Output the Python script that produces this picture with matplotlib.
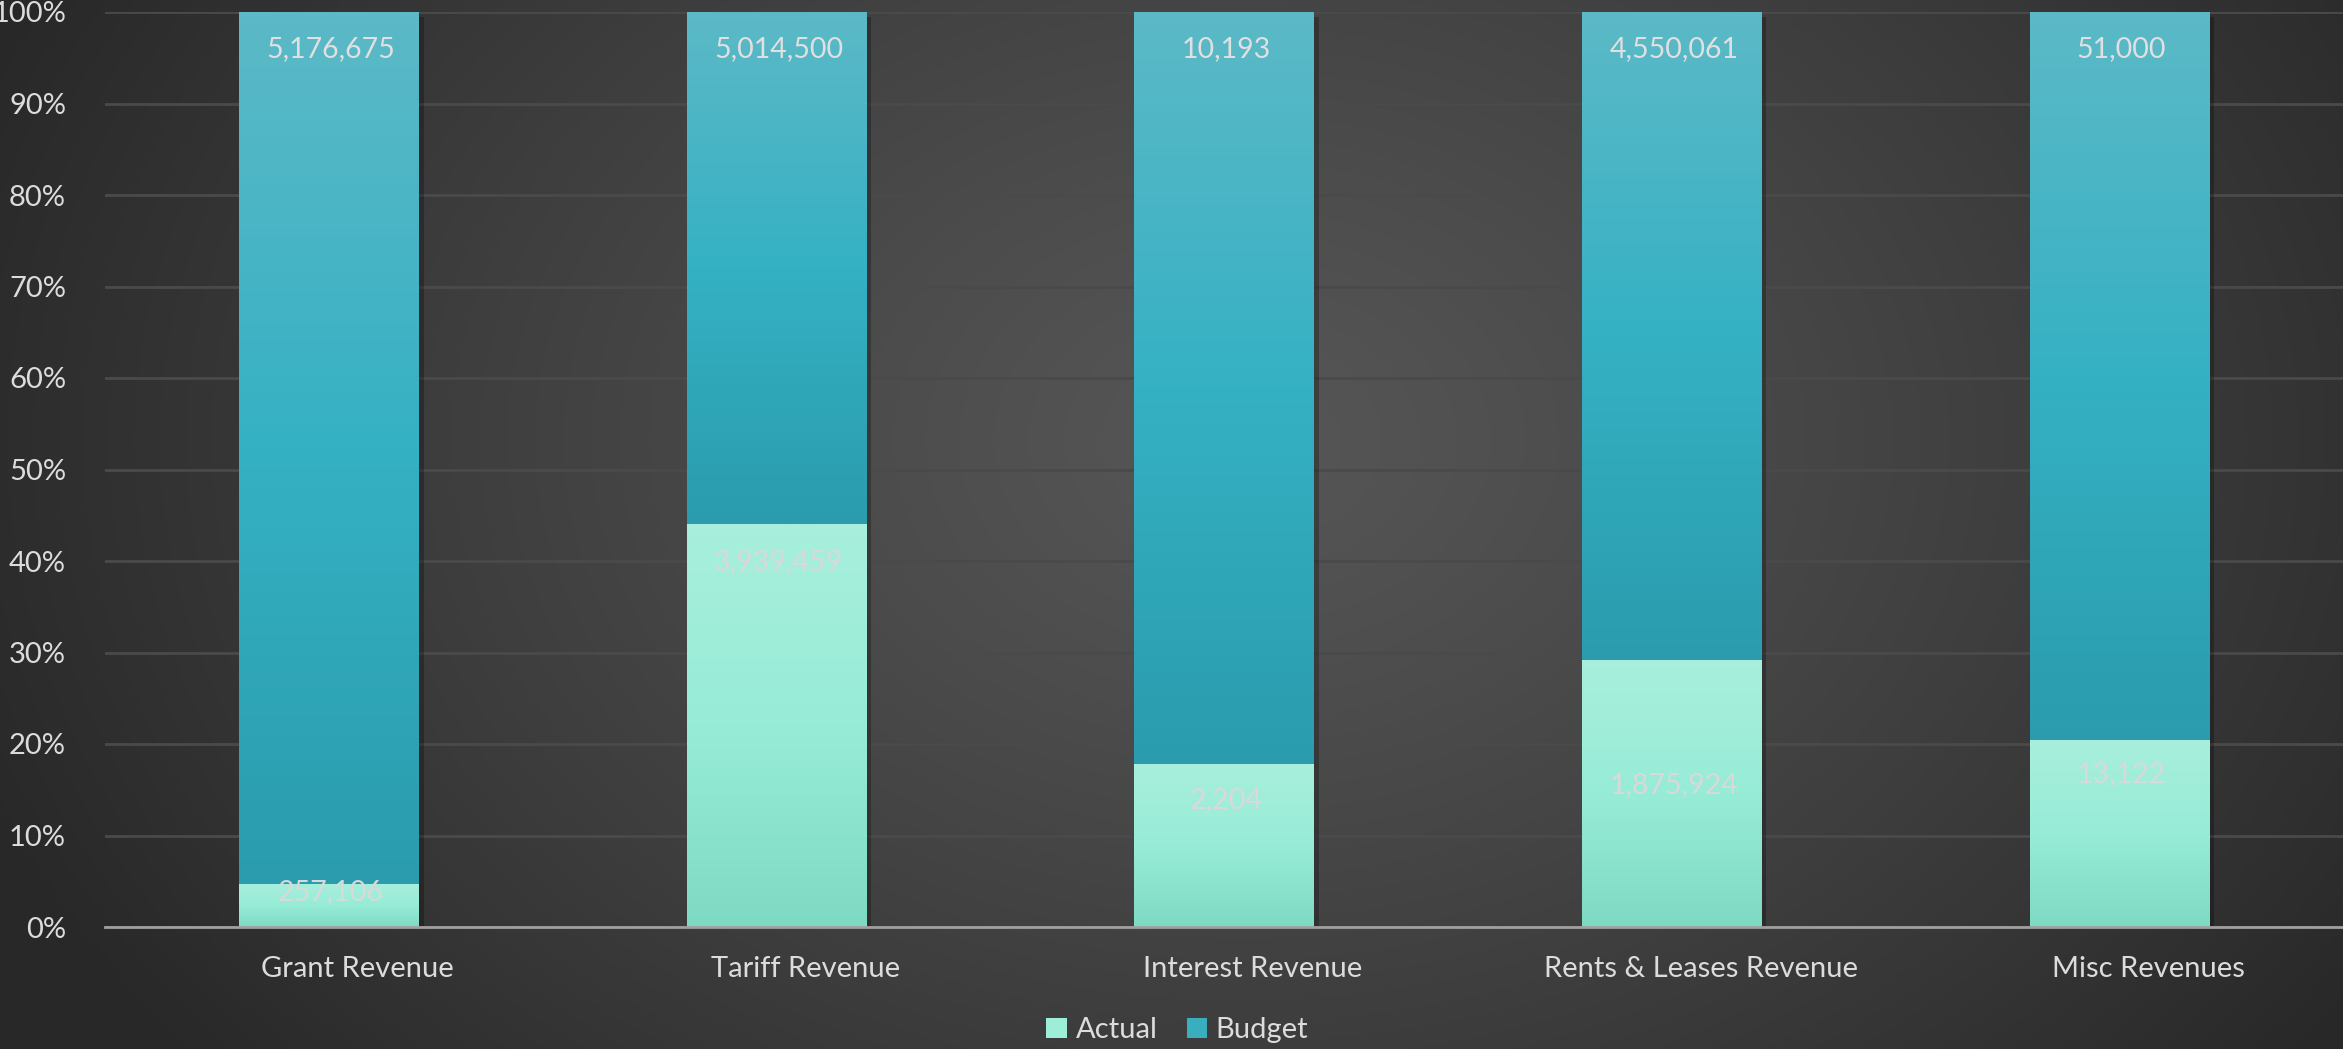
import matplotlib
matplotlib.use("Agg")
import matplotlib.pyplot as plt
import numpy as np
from matplotlib.colors import LinearSegmentedColormap
from matplotlib.transforms import ScaledTranslation
from matplotlib.patches import Patch

categories = ["Grant Revenue", "Tariff Revenue", "Interest Revenue", "Rents & Leases Revenue", "Misc Revenues"]
actual = [257106, 3939459, 2204, 1875924, 13122]
budget = [5176675, 5014500, 10193, 4550061, 51000]
yticks = [0, 10, 20, 30, 40, 50, 60, 70, 80, 90, 100]

# label offsets (in % units) below top of actual segment
actual_label_drop = [0.9, 4.1, 3.9, 13.7, 3.8]

plt.rcParams['font.family'] = ['Lato', 'DejaVu Sans']
W, H = 2343, 1049
fig = plt.figure(figsize=(W / 100, H / 100), dpi=100)

# radial background
bg = fig.add_axes([0, 0, 1, 1], zorder=-10)
yy, xx = np.mgrid[0:H, 0:W]
cx, cy = W * 0.53, H * 0.42
r = np.sqrt(((xx - cx) / (W * 0.58)) ** 2 + ((yy - cy) / (H * 0.95)) ** 2)
r = np.clip(r, 0, 1) ** 1.2
c0 = np.array([0x56, 0x56, 0x56]) / 255
c1 = np.array([0x28, 0x28, 0x28]) / 255
img = c0[None, None, :] * (1 - r[..., None]) + c1[None, None, :] * r[..., None]
bg.imshow(img, aspect='auto', extent=[0, 1, 0, 1])
bg.axis('off')

ax = fig.add_axes([105 / W, 1 - 927 / H, 1 - 105 / W, (927 - 12) / H])
ax.patch.set_alpha(0)

tot = np.array(actual, float) + np.array(budget, float)
pa = np.array(actual) / tot * 100
pb = np.array(budget) / tot * 100
x = np.arange(len(categories))
bw = 0.4

cmap_b = LinearSegmentedColormap.from_list('b', ['#2a9cad', '#35b1c4', '#5cb9c7'])
cmap_a = LinearSegmentedColormap.from_list('a', ['#7fdac3', '#97ecd7', '#a8efdd'])
grad = np.linspace(0, 1, 256).reshape(-1, 1)

def grad_bar(x0, bottom, height, cmap):
    ax.bar(x0 + 0.012, height, bw, bottom=bottom - 0.6, color='black', alpha=0.25, zorder=2, linewidth=0)
    bars = ax.bar(x0, height, bw, bottom=bottom, color=cmap(0.5), zorder=3, linewidth=0)
    b = bars[0]
    im = ax.imshow(grad, cmap=cmap, aspect='auto', origin='lower',
                   extent=[x0 - bw / 2, x0 + bw / 2, bottom, bottom + height], zorder=4)
    im.set_clip_path(b)
    return b

for i in x:
    grad_bar(i, 0, pa[i], cmap_a)
    grad_bar(i, pa[i], pb[i], cmap_b)
    ax.text(i + 0.005, 100 - 4, f"{budget[i]:,}", ha='center', va='center', color='#e0e0e0', fontsize=20.5, zorder=6)
    ax.text(i + 0.005, pa[i] - actual_label_drop[i], f"{actual[i]:,}", ha='center', va='center',
            color='#d9d9d9', fontsize=20.5, zorder=6)

ax.set_xlim(-0.5, len(categories) - 0.5)
ax.set_ylim(0, 100)
ax.set_yticks(yticks)
ax.set_yticklabels([f"{t}%" for t in yticks])
ax.set_xticks(x)
ax.set_xticklabels(categories)
ax.tick_params(axis='both', length=0, colors='#dcdcdc', labelsize=21)
ax.tick_params(axis='y', pad=28)
ax.tick_params(axis='x', pad=21)
off = ScaledTranslation(29 / 100, 0, fig.dpi_scale_trans)
for lbl in ax.get_xticklabels():
    lbl.set_transform(lbl.get_transform() + off)
ax.yaxis.grid(True, color='#4a4a4a', linewidth=2)
ax.set_axisbelow(True)
for s in ['top', 'right', 'left']:
    ax.spines[s].set_visible(False)
ax.spines['bottom'].set_color('#a0a0a0')
ax.spines['bottom'].set_linewidth(2)
ax.spines['bottom'].set_zorder(7)

handles = [Patch(facecolor='#9deed8', label='Actual'), Patch(facecolor='#38aebf', label='Budget')]
fig.legend(handles=handles, loc='center', bbox_to_anchor=(0.5 + 6 / W, 1 - 1030 / H), ncol=2,
           frameon=False, fontsize=21, labelcolor='#dcdcdc', handlelength=0.7, handleheight=0.7,
           handletextpad=0.3, columnspacing=1.0)

fig.savefig('out.png', dpi=100)
